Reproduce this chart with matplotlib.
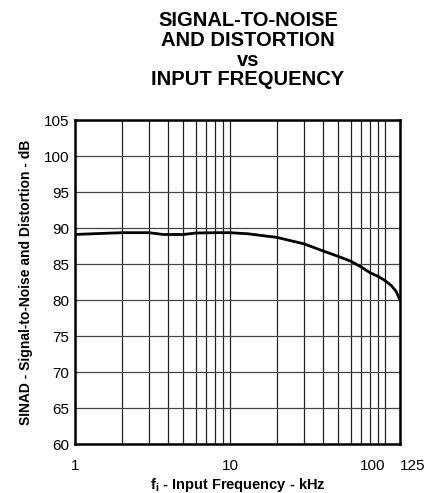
import matplotlib.pyplot as plt
from matplotlib.ticker import FixedLocator, NullFormatter

plt.rcParams['font.family'] = ['Liberation Sans', 'DejaVu Sans']
plt.rcParams['mathtext.fontset'] = 'custom'
plt.rcParams['mathtext.bf'] = 'Liberation Sans:bold'
plt.rcParams['mathtext.rm'] = 'Liberation Sans'

# Datos
freq_khz = [1, 1.3, 2, 3, 3.7, 5, 6, 8, 10, 13, 20, 30, 40, 50, 60, 70, 80, 90, 100, 110, 118, 125]
sinad_db = [89.1, 89.2, 89.35, 89.35, 89.1, 89.1, 89.3, 89.35, 89.35, 89.2, 88.7, 87.8, 86.8,
            86.05, 85.4, 84.6, 83.8, 83.3, 82.7, 82.0, 81.2, 80.0]

xtick_vals = [1, 10, 100, 125]
xtick_text = ['1', '10', '100', '125']
ytick_vals = [60, 65, 70, 75, 80, 85, 90, 95, 100, 105]

fig = plt.figure(figsize=(4.32, 4.93), dpi=100)
ax = fig.add_axes([75 / 432, 1 - 444 / 493, 325 / 432, 324 / 493])

ax.plot(freq_khz, sinad_db, color='black', linewidth=2)
ax.set_xscale('log')
ax.set_xlim(1, 125)
ax.set_ylim(60, 105)

# Rejilla logaritmica
minor = [m * d for d in (1, 10) for m in range(2, 10)]
ax.xaxis.set_minor_locator(FixedLocator(minor))
ax.xaxis.set_minor_formatter(NullFormatter())
ax.set_xticks(xtick_vals)
ax.set_xticklabels(xtick_text)
labels = ax.get_xticklabels()
labels[2].set_ha('right')
labels[3].set_ha('left')
ax.set_yticks(ytick_vals)
ax.grid(True, which='both', axis='x', color='#222222', linewidth=0.9)
ax.grid(True, which='major', axis='y', color='#444444', linewidth=0.9)
ax.tick_params(which='both', length=0, labelsize=11)
ax.tick_params(axis='x', pad=11)
ax.tick_params(axis='y', pad=4)

for s in ax.spines.values():
    s.set_linewidth(1.8)

ax.set_xlabel(r'f$_\mathbf{i}$ - Input Frequency - kHz', fontsize=10.5, fontweight='bold', labelpad=2)
ax.set_ylabel('SINAD - Signal-to-Noise and Distortion - dB', fontsize=10, fontweight='bold', labelpad=8)

fig.text(0.574, 1 - 11 / 493, 'SIGNAL-TO-NOISE\nAND DISTORTION\nvs\nINPUT FREQUENCY',
         ha='center', va='top', fontsize=14.5, fontweight='bold', linespacing=1.05)

plt.savefig('out.png', dpi=100)
